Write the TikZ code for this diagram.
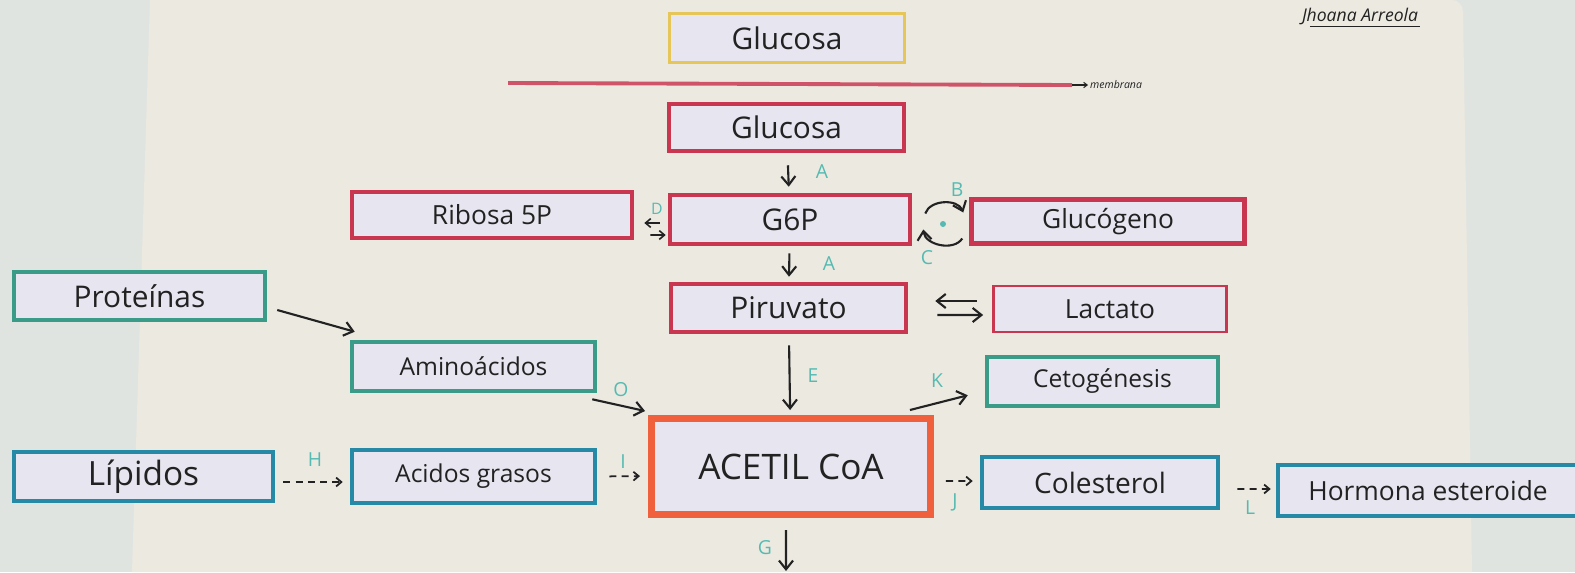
\documentclass[tikz,border=0pt]{standalone}
\usepackage{fontspec}
\setmainfont{Open Sans}
\usetikzlibrary{arrows.meta,calc}

\definecolor{pared}{HTML}{E0E4E1}
\definecolor{papel}{HTML}{ECE9E0}
\definecolor{rojo}{HTML}{C8364F}
\definecolor{amarillo}{HTML}{E6C659}
\definecolor{verde}{HTML}{3A9C88}
\definecolor{azul}{HTML}{2689A6}
\definecolor{naranja}{HTML}{F0603C}
\definecolor{relleno}{HTML}{E7E5EF}
\definecolor{turquesa}{HTML}{55BBB2}
\definecolor{tinta}{HTML}{222222}
\newcommand{\fsz}[1]{\fontsize{#1}{#1}\selectfont}

\begin{document}
\begin{tikzpicture}[x=0.02cm, y=0.02cm, >={Straight Barb[length=5pt,width=8pt]},
        caja/.style={rectangle, draw, fill=relleno, inner sep=0pt, line width=2.6pt, text=tinta, font=\fsz{16}},
        roja/.style={caja, draw=rojo},
        verde node/.style={caja, draw=verde},
        azul node/.style={caja, draw=azul},
        flecha/.style={->, line width=1.2pt, draw=tinta},
        corta/.style={flecha, line width=0.9pt, >={Straight Barb[length=3pt,width=5pt]}},
        discont/.style={->, line width=1pt, draw=tinta, dash pattern=on 4pt off 3pt, >={Straight Barb[length=3pt,width=5pt]}},
        etiq/.style={text=turquesa, font=\fsz{11}}]

    \useasboundingbox (0,0) rectangle (1575,-572);
    \clip (0,0) rectangle (1575,-572);

    % Fondo
    \fill[pared] (0,0) rectangle (1575,-572);
    \fill[papel] (150,0) -- (1452,0) to[out=0,in=90] (1463,-12) -- (1472,-572) -- (132,-572) -- cycle;

    % Cajas
    \node[caja, draw=amarillo, line width=2pt, minimum width=4.70cm, minimum height=0.98cm, font=\fsz{17}] (gluext) at (787,-38) {Glucosa};
    \node[roja, minimum width=4.70cm, minimum height=0.94cm, font=\fsz{17}] (gluint) at (786.5,-127.5) {Glucosa};
    \node[roja, minimum width=4.80cm, minimum height=0.98cm, font=\fsz{17}] (g6p) at (790,-219.5) {G6P};
    \node[roja, minimum width=5.60cm, minimum height=0.92cm, font=\fsz{15}] (ribosa) at (492,-215) {Ribosa 5P};
    \node[roja, minimum width=5.46cm, minimum height=0.88cm, font=\fsz{15}] (glucogeno) at (1108,-221.5) {Glucógeno};
    \node[roja, minimum width=4.70cm, minimum height=0.96cm, font=\fsz{17}] (piruvato) at (788.5,-308) {Piruvato};
    \node[roja, line width=1.6pt, minimum width=4.66cm, minimum height=0.92cm, font=\fsz{15}] (lactato) at (1110,-309) {Lactato};
    \node[verde node, minimum width=5.02cm, minimum height=0.96cm, font=\fsz{17}] (proteinas) at (139.5,-296) {Proteínas};
    \node[verde node, minimum width=4.86cm, minimum height=0.98cm, font=\fsz{14}] (amino) at (473.5,-366.5) {Aminoácidos};
    \node[caja, draw=naranja, line width=4pt, minimum width=5.58cm, minimum height=1.92cm, font=\fsz{20}] (acetil) at (791,-466.5) {ACETIL CoA};
    \node[verde node, minimum width=4.62cm, minimum height=0.98cm, font=\fsz{14}] (cetog) at (1102.5,-381.5) {Cetogénesis};
    \node[azul node, minimum width=5.18cm, minimum height=0.98cm, font=\fsz{19}] (lipidos) at (143.5,-476.5) {Lípidos};
    \node[azul node, minimum width=4.86cm, minimum height=1.06cm, font=\fsz{14}] (acidos) at (473.5,-476.5) {Acidos grasos};
    \node[azul node, minimum width=4.72cm, minimum height=1.02cm, font=\fsz{16}] (colesterol) at (1100,-482.5) {Colesterol};
    \node[azul node, minimum width=6.00cm, minimum height=1.02cm, font=\fsz{15}] (hormona) at (1428,-490.5) {Hormona esteroide};

    % Membrana y firma
    \draw[rojo!85!white, line width=2.2pt] (508,-83) -- (1072,-85) coordinate (finmemb);
    \node[anchor=west, text=tinta, font=\fsz{6}\itshape, inner sep=1pt] (memb) at (1088,-85) {membrana};
    \draw[->, >={Straight Barb[length=2pt,width=3pt]}, line width=0.6pt, tinta] (finmemb) -- (memb.west);
    \node[text=tinta, font=\fsz{10}\itshape] (firma) at (1360,-16) {Jhoana Arreola};
    \draw[tinta, line width=0.7pt] ($(firma.south west)+(14,4)$) -- ($(firma.south east)+(-4,4)$);

    % Flechas
    \path (gluint) edge[flecha, shorten <=0.24cm, shorten >=0.12cm] (g6p);
    \path (g6p) edge[flecha, shorten <=0.14cm, shorten >=0.1cm] (piruvato);
    \path (piruvato) edge[flecha, shorten <=0.22cm, shorten >=0.1cm] (acetil);
    \path ([yshift=-0.07cm]g6p.west) edge[corta, shorten <=0.16cm, shorten >=0.2cm] ([yshift=-0.16cm]ribosa.east);
    \path ([yshift=-0.4cm]ribosa.east) edge[corta, shorten <=0.32cm, shorten >=0.04cm] ([yshift=-0.31cm]g6p.west);
    \draw[flecha] ($(g6p.east)+(13,6)$) to[bend left=70] ($(glucogeno.west)+(-6,9)$);
    \draw[flecha] ($(glucogeno.west)+(-7,-17)$) to[bend left=70] ($(g6p.east)+(11,-10)$);
    \fill[turquesa] (943,-224) circle (3);
    \path ([yshift=0.16cm]lactato.west) edge[flecha, shorten <=0.3cm, shorten >=0.54cm] ([yshift=0.14cm]piruvato.east);
    \path ([yshift=-0.14cm]piruvato.east) edge[flecha, shorten <=0.58cm, shorten >=0.18cm] ([yshift=-0.12cm]lactato.west);
    \draw[flecha] ($(proteinas.east)+(10,-14)$) -- ($(amino.north west)+(5,8)$);
    \draw[flecha] ($(amino.south east)+(-5,-6)$) -- ($(acetil.north west)+(-3,4)$);
    \draw[flecha] ($(acetil.north east)+(-24,5)$) -- ($(cetog.south west)+(-17,13)$);
    \path ([yshift=-0.11cm]lipidos.east) edge[discont, shorten <=0.16cm, shorten >=0.14cm] ([yshift=-0.11cm]acidos.west);
    \path (acidos.east) edge[discont, shorten <=0.24cm, shorten >=0.16cm] ([yshift=-0.19cm]acetil.west);
    \path ([yshift=-0.29cm]acetil.east) edge[discont, shorten <=0.24cm, shorten >=0.14cm] ([yshift=0.03cm]colesterol.west);
    \path ([yshift=-0.13cm]colesterol.east) edge[discont, shorten <=0.34cm, shorten >=0.1cm] ([yshift=0.03cm]hormona.west);
    \coordinate (gfin) at (786,-571);
    \path ([xshift=-0.1cm]acetil.south) edge[flecha, shorten <=0.24cm] (gfin);

    % Letras
    \node[etiq] (la1) at (822,-172) {A};
    \node[etiq] (la2) at (829,-264) {A};
    \node[etiq, font=\fsz{9}] (ld) at (657,-209) {D};
    \node[etiq] (lb) at (957,-190) {B};
    \node[etiq] (lc) at (927,-258) {C};
    \node[etiq] (le) at (813,-376) {E};
    \node[etiq] (lo) at (621,-390) {O};
    \node[etiq] (lk) at (937,-381) {K};
    \node[etiq] (lh) at (315,-460) {H};
    \node[etiq] (li) at (623,-462) {I};
    \node[etiq] (lj) at (955,-502) {J};
    \node[etiq] (ll) at (1250,-508) {L};
    \node[etiq] (lg) at (765,-548) {G};
\end{tikzpicture}
\end{document}
